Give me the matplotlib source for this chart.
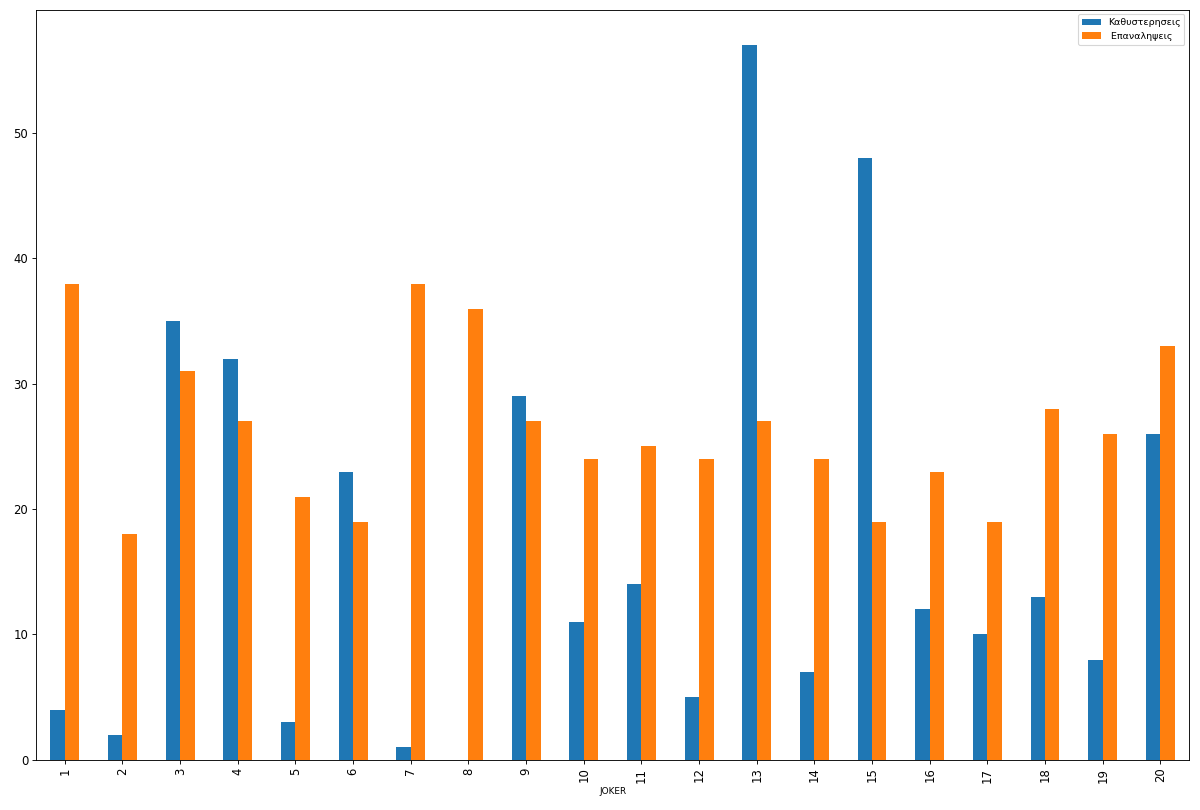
import matplotlib
matplotlib.use("Agg")
import matplotlib.pyplot as plt
import pandas as pd

joker = list(range(1, 21))
kathysterhseis = [4, 2, 35, 32, 3, 23, 1, 0, 29, 11, 14, 5, 57, 7, 48, 12, 10, 13, 8, 26]
epanalhpseis = [38, 18, 31, 27, 21, 19, 38, 36, 27, 24, 25, 24, 27, 24, 19, 23, 19, 28, 26, 33]

df = pd.DataFrame({"Καθυστερησεις": kathysterhseis, " Επαναληψεις": epanalhpseis},
                  index=pd.Index(joker, name="JOKER"))

fig, ax = plt.subplots(figsize=(15, 10.125), dpi=80)
df.plot.bar(ax=ax)
ax.set_xlabel("JOKER", fontsize=8)
ax.tick_params(labelsize=10.5)
ax.legend(fontsize=8.5)
plt.subplots_adjust(left=0.03, right=0.991, top=0.988, bottom=0.062)
plt.savefig("out.png", dpi=80)
